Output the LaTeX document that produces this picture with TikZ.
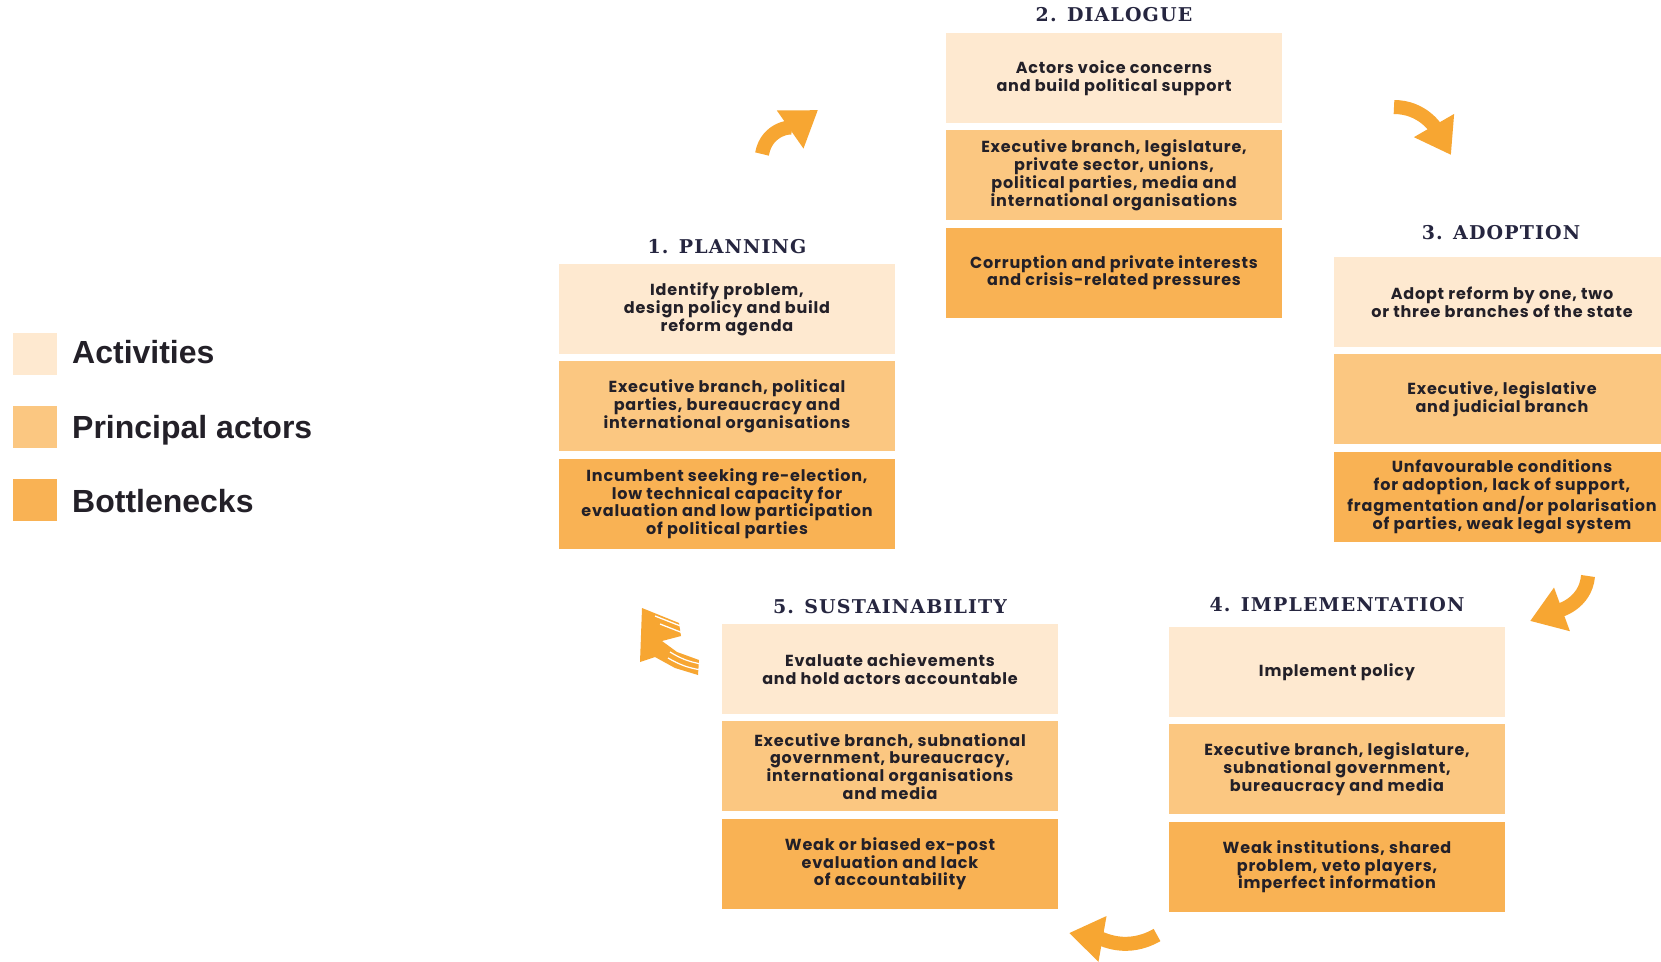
\documentclass[tikz,border=0pt]{standalone}
\usepackage{fontspec}
\setmainfont{Poppins}[LetterSpace=5]
\newfontfamily\legendfont{Liberation Sans}
\newfontfamily\titlefont{DejaVu Serif}[LetterSpace=6]
\usetikzlibrary{positioning,arrows.meta}

\definecolor{actfill}{RGB}{254,233,208}
\definecolor{actorfill}{RGB}{251,199,129}
\definecolor{neckfill}{RGB}{249,178,84}
\definecolor{arrowfill}{RGB}{247,166,50}
\definecolor{inktext}{RGB}{35,32,40}
\definecolor{titleink}{RGB}{38,38,64}

\tikzset{
  box/.style={minimum width=336pt, minimum height=90pt, inner sep=0pt, align=center,
    text=inktext, font=\fontsize{16}{17.8}\selectfont\bfseries},
  act/.style={box, fill=actfill},
  actor/.style={box, fill=actorfill},
  neck/.style={box, fill=neckfill},
  stagetitle/.style={inner sep=0pt, text=titleink, font=\titlefont\fontsize{19}{22}\selectfont\bfseries},
  keybox/.style={minimum width=44pt, minimum height=42pt, inner sep=0pt},
  keytext/.style={anchor=base west, inner sep=0pt, text=inktext,
    font=\legendfont\fontsize{32}{36}\selectfont\bfseries},
  flow/.style={draw=arrowfill, line width=14pt, -{Triangle[length=34pt,width=44pt]}},
}

\begin{document}
\begin{tikzpicture}[x=1pt,y=1pt]
  \fill[white] (0,0) rectangle (1661,-961);
  \useasboundingbox (0,0) rectangle (1661,-961);

  % legend
  \node[keybox, fill=actfill] (key-act) at (35,-354) {};
  \node[keybox, fill=actorfill] (key-actor) at (35,-427) {};
  \node[keybox, fill=neckfill] (key-neck) at (35,-500) {};
  \node[keytext] (key-act-text) at (72,-363) {Activities};
  \node[keytext] (key-actor-text) at (72,-438) {Principal actors};
  \node[keytext] (key-neck-text) at (72,-512) {Bottlenecks};

  % 1. planning
  \node[stagetitle] (plan) at (727,-247) {1. PLANNING};
  \node[act] (plan-a) at (727,-309) {Identify problem,\\design policy and build\\reform agenda};
  \node[actor, below=7pt of plan-a] (plan-b) {Executive branch, political\\parties, bureaucracy and\\international organisations};
  \node[neck, below=7pt of plan-b] (plan-c) {Incumbent seeking re-election,\\low technical capacity for\\evaluation and low participation\\of political parties};

  % 2. dialogue
  \node[stagetitle] (dial) at (1114,-15) {2. DIALOGUE};
  \node[act] (dial-a) at (1114,-78) {Actors voice concerns\\and build political support};
  \node[actor, below=7pt of dial-a] (dial-b) {Executive branch, legislature,\\private sector, unions,\\political parties, media and\\international organisations};
  \node[neck, below=7pt of dial-b] (dial-c) {Corruption and private interests\\and crisis-related pressures};

  % 3. adoption
  \node[stagetitle] (adop) at (1501,-233) {3. ADOPTION};
  \node[act] (adop-a) at (1502,-302) {Adopt reform by one, two\\or three branches of the state};
  \node[actor, below=7pt of adop-a] (adop-b) {Executive, legislative\\and judicial branch};
  \node[neck, below=7pt of adop-b] (adop-c) {Unfavourable conditions\\for adoption, lack of support,\\fragmentation and/or polarisation\\of parties, weak legal system};

  % 4. implementation
  \node[stagetitle] (impl) at (1337,-605) {4. IMPLEMENTATION};
  \node[act] (impl-a) at (1337,-672) {Implement policy};
  \node[actor, below=7pt of impl-a] (impl-b) {Executive branch, legislature,\\subnational government,\\bureaucracy and media};
  \node[neck, below=7pt of impl-b] (impl-c) {Weak institutions, shared\\problem, veto players,\\imperfect information};

  % 5. sustainability
  \node[stagetitle] (sust) at (890,-607) {5. SUSTAINABILITY};
  \node[act] (sust-a) at (890,-669) {Evaluate achievements\\and hold actors accountable};
  \node[actor, below=7pt of sust-a] (sust-b) {Executive branch, subnational\\government, bureaucracy,\\international organisations\\and media};
  \node[neck, below=7pt of sust-b] (sust-c) {Weak or biased ex-post\\evaluation and lack\\of accountability};

  % cycle arrows
  \coordinate (flow1-from) at (762,-154);
  \coordinate (flow1-to) at (818,-110);
  \coordinate (flow2-from) at (1394,-107);
  \coordinate (flow2-to) at (1451,-155);
  \coordinate (flow3-from) at (1588,-576);
  \coordinate (flow3-to) at (1530,-621);
  \coordinate (flow4-from) at (1157,-935);
  \coordinate (flow4-to) at (1069,-933);
  \draw[flow] (flow1-from) to[out=80,in=215] (flow1-to);
  \draw[flow] (flow2-from) to[out=0,in=120] (flow2-to);
  \draw[flow] (flow3-from) to[out=-95,in=20] (flow3-to);
  \draw[flow] (flow4-from) to[out=-150,in=-10] (flow4-to);

  % striped arrow back to planning
  \fill[arrowfill] (642,-608) -- (679,-623) -- (681,-636) -- (662,-641) -- (677,-652)
    -- (699,-660) -- (698,-675) -- (675,-668) -- (655,-657) -- (640,-662) -- cycle;
  \draw[white, line width=1.3pt] (655,-616) -- (683,-627);
  \draw[white, line width=1.3pt] (660,-624) -- (683,-633);
  \draw[white, line width=1.2pt] (670,-652) to[bend right=10] (701,-664);
  \draw[white, line width=1.2pt] (668,-658) to[bend right=10] (701,-670);
\end{tikzpicture}
\end{document}
